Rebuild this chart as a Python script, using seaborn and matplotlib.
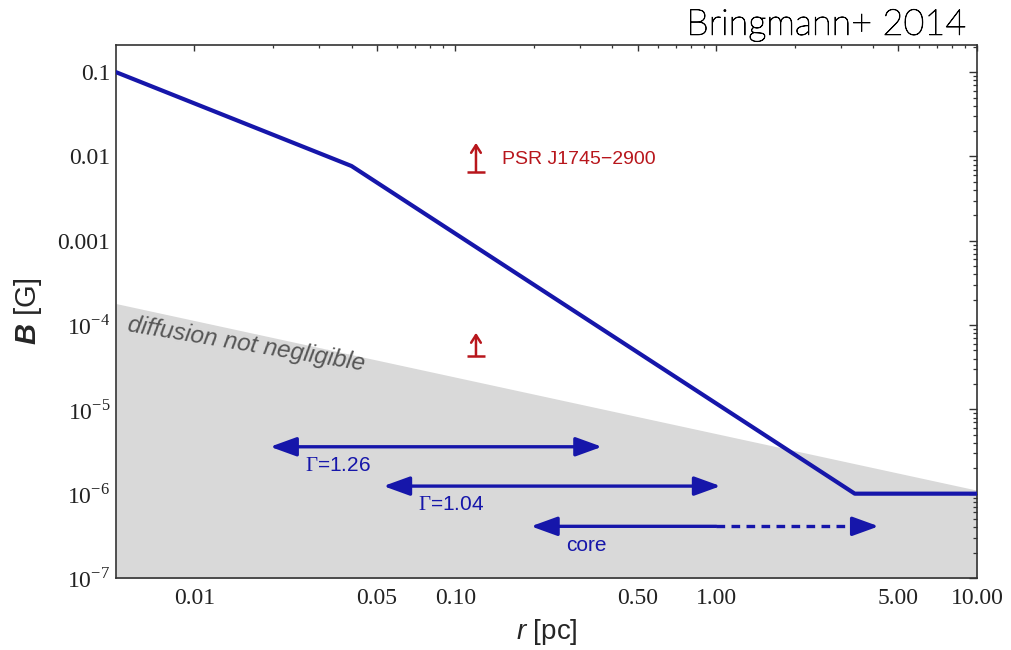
import matplotlib
matplotlib.use("Agg")
import matplotlib.pyplot as plt
import matplotlib.patheffects as pe
import seaborn as sns
import pandas as pd
from matplotlib.ticker import FixedLocator, FixedFormatter, NullFormatter

# Magnetic field profile B(r)
r_profile = [0.005, 0.04, 3.4, 10.0]
B_profile = [0.1, 0.0077, 1.0e-6, 1.0e-6]

# Boundary of the region where diffusion is not negligible
r_diffusion = [0.005, 10.0]
B_diffusion = [1.8e-4, 1.1e-6]

# Lower limits from PSR J1745-2900
psr_r = [0.12, 0.12]
psr_B_low = [0.0066, 4.3e-5]
psr_B_high = [0.0145, 8.1e-5]

# Radial ranges of the density profiles
range_labels = [r"$\Gamma$=1.26", r"$\Gamma$=1.04", "core"]
range_lo = [0.0195, 0.053, 0.195]
range_hi = [0.365, 1.04, 1.0]
range_B = [3.6e-6, 1.23e-6, 4.1e-7]
core_extension = 4.2

# Axis ticks
x_major = [0.01, 0.05, 0.1, 0.5, 1.0, 5.0, 10.0]
x_major_labels = ["0.01", "0.05", "0.10", "0.50", "1.00", "5.00", "10.00"]
y_major = [1e-7, 1e-6, 1e-5, 1e-4, 1e-3, 1e-2, 1e-1]
y_major_labels = [r"$10^{-7}$", r"$10^{-6}$", r"$10^{-5}$", r"$10^{-4}$",
                  "0.001", "0.01", "0.1"]

sns.set_style("white")
plt.rcParams["font.family"] = ["Liberation Sans", "DejaVu Sans"]
plt.rcParams["mathtext.fontset"] = "custom"
plt.rcParams["mathtext.rm"] = "Liberation Serif"
plt.rcParams["mathtext.it"] = "Liberation Sans:italic"
plt.rcParams["mathtext.bf"] = "Liberation Sans:italic:bold"

blue = "#1616aa"
red = "#b8161c"
shade = "#d9d9d9"
frame = "#333333"

fig = plt.figure(figsize=(10.12, 6.5), dpi=100)
ax = fig.add_axes([0.1146, 0.1108, 0.8508, 0.82])
ax.set_xscale("log")
ax.set_yscale("log")

# shaded diffusion region
ax.fill_between(r_diffusion, B_diffusion, 1e-9, color=shade, lw=0, zorder=0)

# field profile
prof = pd.DataFrame({"r": r_profile, "B": B_profile})
sns.lineplot(data=prof, x="r", y="B", ax=ax, color=blue, lw=3, sort=False,
             zorder=5)

# pulsar lower limits
ax.plot(psr_r, psr_B_low, ls="none", marker="_", ms=13, mew=1.8, color=red)
for r0, lo, hi in zip(psr_r, psr_B_low, psr_B_high):
    ax.annotate("", xy=(r0, hi), xytext=(r0, lo),
                arrowprops=dict(arrowstyle="->,head_length=0.55,head_width=0.35",
                                color=red, lw=1.8, shrinkA=0, shrinkB=0))
ax.annotate("PSR J1745\u22122900", xy=(psr_r[0], psr_B_low[0]), xytext=(19, 9),
            textcoords="offset points", ha="left", va="center",
            color=red, fontsize=14)

# radial ranges
head = ",head_length=1.6,head_width=0.58"
for i, (lab, lo, hi, b) in enumerate(zip(range_labels, range_lo, range_hi, range_B)):
    style = "<|-|>" if i < 2 else "-|>"
    ax.annotate("", xy=(lo, b), xytext=(hi, b),
                arrowprops=dict(arrowstyle=style + head,
                                color=blue, lw=2.4, shrinkA=0, shrinkB=0))
    ax.annotate(lab, xy=(lo, b), xytext=(25, -13.5), textcoords="offset points",
                ha="left", va="center", color=blue, fontsize=15)
# dashed extension of the core range
ax.plot([range_hi[2], core_extension * 0.88], [range_B[2]] * 2, color=blue, lw=2.4,
        ls=(0, (2.6, 1.9)))
ax.annotate("", xy=(core_extension, range_B[2]), xytext=(core_extension * 0.88, range_B[2]),
            arrowprops=dict(arrowstyle="-|>" + head,
                            color=blue, lw=2.4, shrinkA=0, shrinkB=0))

ax.text(0.00549, 8.4e-5, "diffusion not negligible", rotation=-9.5,
        rotation_mode="anchor", ha="left", va="baseline", color="#555555",
        fontsize=17.5, style="italic")

ax.set_xlim(0.005, 10)
ax.set_ylim(1e-7, 0.21)

ax.xaxis.set_major_locator(FixedLocator(x_major))
ax.xaxis.set_major_formatter(FixedFormatter(x_major_labels))
x_minor = [m * d for d in (0.01, 0.1, 1.0) for m in (2, 3, 4, 6, 7, 8, 9)]
ax.xaxis.set_minor_locator(FixedLocator(x_minor))
ax.xaxis.set_minor_formatter(NullFormatter())
ax.yaxis.set_major_locator(FixedLocator(y_major))
ax.yaxis.set_major_formatter(FixedFormatter(y_major_labels))
y_minor = [m * 10.0 ** e for e in range(-7, 0) for m in range(2, 10)]
ax.yaxis.set_minor_locator(FixedLocator(y_minor))
ax.yaxis.set_minor_formatter(NullFormatter())

ax.tick_params(which="both", direction="in", top=True, right=True, colors=frame)
ax.tick_params(axis="x", which="major", length=4, width=1.0, pad=7)
ax.tick_params(axis="x", which="minor", length=2.2, width=0.9)
ax.tick_params(axis="y", which="major", length=5.5, width=1.0, pad=4)
ax.tick_params(axis="y", which="minor", length=2.8, width=0.9)
for lab in ax.get_xticklabels() + ax.get_yticklabels():
    lab.set_family("Liberation Serif")
    lab.set_fontsize(17)
    lab.set_color("#222222")
for sp in ax.spines.values():
    sp.set_color(frame)
    sp.set_linewidth(1.2)

ax.set_xlabel(r"$r$ [pc]", fontsize=20, labelpad=6)
ax.set_ylabel(r"$\mathbf{B}$ [G]", fontsize=21, labelpad=10)

fig.text(0.955, 0.961, "Bringmann+ 2014", ha="right", va="center",
         fontsize=26, family=["Lato", "DejaVu Sans"], weight="light",
         color="black",
         path_effects=[pe.withStroke(linewidth=0.6, foreground="black")])

fig.savefig("out.png", dpi=100)
